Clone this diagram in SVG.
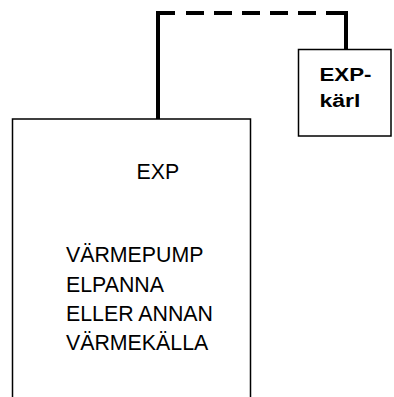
<svg xmlns="http://www.w3.org/2000/svg" width="394" height="397" viewBox="0 0 394 397">
<style>
.box{fill:none;stroke:#000;stroke-width:1.5}
.pipe{fill:none;stroke:#000;stroke-width:4}
.t{font-family:"Liberation Sans",Arial,sans-serif;font-size:21.33px;fill:#000}
.tb{font-family:"Liberation Sans",Arial,sans-serif;font-size:18.67px;font-weight:bold;fill:#000}
</style>
<rect width="394" height="397" fill="#fff"/>
<g id="connectors">
<path class="pipe" d="M158 119 V13 H175"/>
<line class="pipe" x1="186" y1="13" x2="344" y2="13" stroke-dasharray="18 10"/>
<path class="pipe" d="M344 13 H346 V49.5"/>
</g>
<g id="heat-source">
<path class="box" d="M12.5 397 V119 H250.5 V397"/>
<text class="t" x="136.5" y="179">EXP</text>
<text class="t" x="66" y="262">VÄRMEPUMP</text>
<text class="t" x="66" y="291.5">ELPANNA</text>
<text class="t" x="66" y="320.5">ELLER ANNAN</text>
<text class="t" x="66" y="349.5">VÄRMEKÄLLA</text>
</g>
<g id="exp-karl">
<rect class="box" x="298.5" y="49.5" width="92.5" height="86.5"/>
<text class="tb" x="319.5" y="80.7" textLength="52" lengthAdjust="spacingAndGlyphs">EXP-</text>
<text class="tb" x="319.5" y="106.7" textLength="41" lengthAdjust="spacingAndGlyphs">kärl</text>
</g>
</svg>
